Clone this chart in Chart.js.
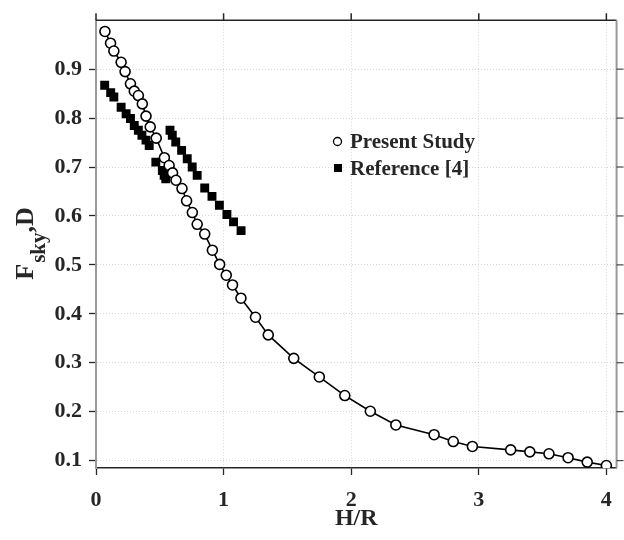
<!DOCTYPE html>
<html>
<head>
<meta charset="utf-8">
<script src="https://cdn.jsdelivr.net/npm/chart.js@4"></script>
<style>
  html, body { margin: 0; padding: 0; background: #fff; }
  #wrap { width: 624px; height: 540px; }
</style>
</head>
<body>
<div id="wrap"><canvas id="fsky-chart"></canvas></div>
<script>
// Present Study (circles + line)
const presentX = [0.07, 0.114, 0.14, 0.197, 0.228, 0.27, 0.30, 0.332, 0.363, 0.392, 0.425, 0.472,
  0.536, 0.573, 0.60, 0.627, 0.674, 0.71, 0.755, 0.793, 0.852, 0.912, 0.969, 1.021, 1.07, 1.136,
  1.25, 1.35, 1.55, 1.75, 1.95, 2.15, 2.35, 2.65, 2.80, 2.95, 3.25, 3.40, 3.55, 3.70, 3.85, 4.00];
const presentY = [0.977, 0.953, 0.937, 0.914, 0.895, 0.870, 0.855, 0.846, 0.829, 0.804, 0.782, 0.759,
  0.719, 0.703, 0.688, 0.673, 0.656, 0.631, 0.607, 0.583, 0.563, 0.530, 0.501, 0.479, 0.459, 0.432,
  0.393, 0.357, 0.309, 0.271, 0.233, 0.201, 0.173, 0.153, 0.139, 0.129, 0.122, 0.118, 0.114, 0.106, 0.097, 0.090];

// Reference [4] (filled squares)
const refX = [0.068, 0.115, 0.14, 0.197, 0.236, 0.27, 0.30, 0.332, 0.36, 0.392, 0.417, 0.469, 0.52, 0.534, 0.547,
  0.58, 0.598, 0.625, 0.671, 0.715, 0.754, 0.793, 0.852, 0.909, 0.967, 1.026, 1.078, 1.137];
const refY = [0.867, 0.852, 0.843, 0.822, 0.809, 0.799, 0.785, 0.775, 0.765, 0.755, 0.744, 0.710, 0.693, 0.683, 0.676,
  0.775, 0.765, 0.751, 0.734, 0.717, 0.700, 0.683, 0.657, 0.640, 0.622, 0.603, 0.588, 0.570];

const xTicks = [0, 1, 2, 3, 4];
const yTicks = [0.1, 0.2, 0.3, 0.4, 0.5, 0.6, 0.7, 0.8, 0.9];
const seriesNames = ["Present Study", "Reference [4]"];

const textColor = "#262626";
const serif = "'Liberation Serif', 'Times New Roman', serif";

const toPoints = (xs, ys) => xs.map((x, i) => ({ x: x, y: ys[i] }));

// box lines on top/right + axis titles + legend inside plot
const extrasPlugin = {
  id: "extras",
  afterDraw(chart) {
    const ctx = chart.ctx;
    const a = chart.chartArea;
    const xs = chart.scales.x;
    const ys = chart.scales.y;
    ctx.save();

    // top border + outward ticks
    ctx.strokeStyle = "#262626";
    ctx.lineWidth = 1.5;
    ctx.beginPath();
    ctx.moveTo(a.left, a.top);
    ctx.lineTo(a.right, a.top);
    xTicks.forEach((v) => {
      const px = xs.getPixelForValue(v);
      ctx.moveTo(px, a.top);
      ctx.lineTo(px, a.top - 7);
    });
    ctx.stroke();

    // right border (gray) + ticks
    ctx.strokeStyle = "#9a9a9a";
    ctx.lineWidth = 2;
    ctx.beginPath();
    ctx.moveTo(a.right, a.top);
    ctx.lineTo(a.right, a.bottom);
    ctx.stroke();
    ctx.strokeStyle = "#262626";
    ctx.lineWidth = 1;
    ctx.beginPath();
    yTicks.forEach((v) => {
      const py = ys.getPixelForValue(v);
      ctx.moveTo(a.right, py);
      ctx.lineTo(a.right + 7, py);
    });
    ctx.stroke();

    // x title
    ctx.fillStyle = textColor;
    ctx.font = "bold 24px " + serif;
    ctx.textAlign = "center";
    ctx.textBaseline = "middle";
    ctx.fillText("H/R", (a.left + a.right) / 2, 519);

    // y title: F_sky,D rotated
    ctx.save();
    ctx.translate(33, 244);
    ctx.rotate(-Math.PI / 2);
    ctx.textAlign = "left";
    ctx.textBaseline = "alphabetic";
    const big = "bold 26px " + serif;
    const small = "bold 21px " + serif;
    ctx.font = big;
    const wF = ctx.measureText("F").width;
    const wD = ctx.measureText(",D").width;
    ctx.font = small;
    const wS = ctx.measureText("sky").width;
    let x0 = -(wF + wS + wD) / 2;
    ctx.font = big;
    ctx.fillText("F", x0, 0);
    ctx.font = small;
    ctx.fillText("sky", x0 + wF + 1, 12);
    ctx.font = big;
    ctx.fillText(",D", x0 + wF + wS + 1, 0);
    ctx.restore();

    // legend
    ctx.font = "bold 21px " + serif;
    ctx.textAlign = "left";
    ctx.textBaseline = "alphabetic";
    ctx.fillStyle = textColor;
    ctx.fillText(seriesNames[0], 350, 148);
    ctx.fillText(seriesNames[1], 350, 175);
    ctx.beginPath();
    ctx.arc(337.5, 141.5, 4, 0, Math.PI * 2);
    ctx.fillStyle = "#fff";
    ctx.fill();
    ctx.strokeStyle = "#000";
    ctx.lineWidth = 1.3;
    ctx.stroke();
    ctx.fillStyle = "#000";
    ctx.fillRect(334, 164, 8, 8);

    ctx.restore();
  },
};

const chartData = {
  datasets: [
    {
      label: seriesNames[0],
      data: toPoints(presentX, presentY),
      showLine: true,
      borderColor: "#000",
      borderWidth: 1.6,
      pointStyle: "circle",
      pointRadius: 5,
      pointBorderWidth: 1.6,
      pointBackgroundColor: "#fff",
      pointBorderColor: "#000",
      tension: 0,
    },
    {
      label: seriesNames[1],
      data: toPoints(refX, refY),
      showLine: false,
      pointStyle: "rect",
      pointRadius: 6.3,
      pointBorderWidth: 0,
      pointBackgroundColor: "#000",
      pointBorderColor: "#000",
    },
  ],
};

const tickFont = { family: serif, size: 22, weight: "bold" };

const chartOptions = {
  responsive: true,
  maintainAspectRatio: false,
  animation: false,
  layout: { padding: { top: 19, right: 2, left: 0, bottom: 0 } },
  scales: {
    x: {
      type: "linear",
      min: 0,
      max: 4.08,
      afterBuildTicks: (axis) => {
        axis.ticks = xTicks.map((v) => ({ value: v }));
      },
      afterFit: (axis) => {
        axis.height = 72;
      },
      ticks: {
        font: tickFont,
        color: textColor,
        padding: 12,
        maxRotation: 0,
        callback: (v) => String(v),
      },
      grid: {
        color: "rgba(0,0,0,0.16)",
        lineWidth: 1,
        tickLength: 7,
        tickColor: "#262626",
        tickWidth: 1.3,
      },
      border: { display: true, color: "#262626", width: 1.5, dash: [1, 2] },
    },
    y: {
      type: "linear",
      min: 0.085,
      max: 1.0,
      afterBuildTicks: (axis) => {
        axis.ticks = yTicks.map((v) => ({ value: v }));
      },
      afterFit: (axis) => {
        axis.width = 96;
      },
      ticks: {
        font: tickFont,
        color: textColor,
        padding: 7,
        callback: (v) => v.toFixed(1),
      },
      grid: {
        color: "rgba(0,0,0,0.16)",
        lineWidth: 1,
        tickLength: 7,
        tickColor: "#262626",
        tickWidth: 1.3,
      },
      border: { display: true, color: "#9a9a9a", width: 2, dash: [1, 2] },
    },
  },
  plugins: {
    legend: { display: false },
    tooltip: { enabled: false },
    title: { display: false },
  },
};

new Chart(document.getElementById("fsky-chart"), {
  type: "scatter",
  data: chartData,
  options: chartOptions,
  plugins: [extrasPlugin],
});
</script>
</body>
</html>
